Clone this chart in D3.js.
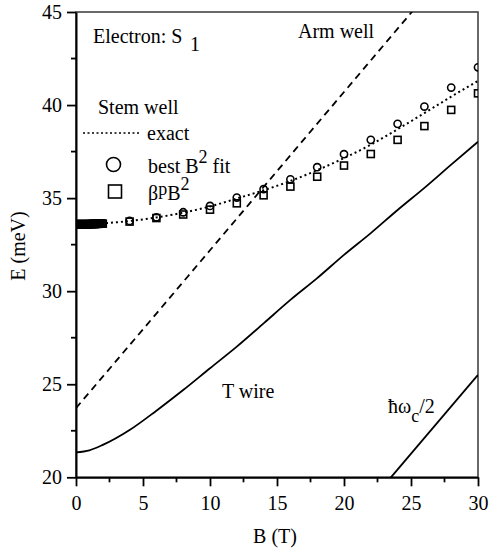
<!DOCTYPE html>
<html><head><meta charset="utf-8">
<script src="https://cdn.jsdelivr.net/npm/d3@7"></script>
<style>
body{margin:0;background:#fff}
text{font-family:"Liberation Serif","Times New Roman",serif;fill:#000}
</style></head>
<body><svg id="c" width="489" height="553"></svg>
<script>
// ---- data ----
const xTicks = [0,5,10,15,20,25,30];
const yTicks = [20,25,30,35,40,45];
const xMinor = [2.5,7.5,12.5,17.5,22.5,27.5];
const yMinor = [22.5,27.5,32.5,37.5,42.5];

const exactB = [0,2,4,6,8,10,12,14,16,18,20,22,24,26,28,30];
const exactE = [33.6,33.65,33.77,33.96,34.22,34.55,34.98,35.42,35.92,36.5,37.15,37.87,38.7,39.57,40.45,41.3];

const lowB = [0,0.1,0.2,0.3,0.4,0.5,0.6,0.7,0.8,0.9,1.0,1.1,1.2,1.3,1.4,1.5,1.6,1.7,1.8,1.9,2.0];
const lowE = [33.6,33.6,33.6,33.6,33.6,33.6,33.6,33.6,33.6,33.6,33.6,33.61,33.61,33.61,33.61,33.62,33.62,33.62,33.63,33.63,33.63];

const fitB = [4,6,8,10,12,14,16,18,20,22,24,26,28,30];
const circleE = [33.77,33.97,34.24,34.58,35.03,35.48,36.01,36.66,37.36,38.13,38.99,39.92,40.94,42.03];
const squareE = [33.74,33.93,34.12,34.38,34.72,35.15,35.62,36.15,36.75,37.37,38.13,38.87,39.74,40.63];

const armB = [0,5,10,15,20,25,26];
const armE = [23.72,27.95,32.2,36.45,40.7,44.95,45.8];

const tB = [0,1,2,4,6,8,10,12,14,16,18,20,22,24,26,28,30];
const tE = [21.34,21.45,21.74,22.54,23.58,24.69,25.86,27.02,28.27,29.53,30.7,31.95,33.12,34.36,35.55,36.8,38.03];

const cycB = [23.5,30];
const cycE = [20,25.5];

// ---- layout ----
const svg = d3.select("#c");
const L=76, R=478, T=12, Bt=477.3;
const x = d3.scaleLinear().domain([0,30]).range([L,R]);
const y = d3.scaleLinear().domain([20,45]).range([Bt,T]);

svg.append("clipPath").attr("id","clip").append("rect")
  .attr("x",L).attr("y",T).attr("width",R-L).attr("height",Bt-T);

// frame
svg.append("rect").attr("x",L).attr("y",T).attr("width",R-L).attr("height",Bt-T)
  .attr("fill","none").attr("stroke","#444").attr("stroke-width",1.6);

// axes
const xa = svg.append("g").attr("transform",`translate(0,${Bt})`)
  .call(d3.axisBottom(x).tickValues(xTicks).tickSize(9).tickSizeOuter(0).tickPadding(10));
const ya = svg.append("g").attr("transform",`translate(${L},0)`)
  .call(d3.axisLeft(y).tickValues(yTicks).tickSize(9).tickSizeOuter(0).tickPadding(5));
[xa,ya].forEach(g=>{
  g.select(".domain").attr("stroke","#000").attr("stroke-width",2);
  g.selectAll(".tick line").attr("stroke","#000").attr("stroke-width",1.8);
  g.selectAll(".tick text").attr("font-family","Liberation Serif").attr("font-size",20).attr("fill","#000");
});
svg.append("g").selectAll("line").data(xMinor).join("line")
  .attr("x1",d=>x(d)).attr("x2",d=>x(d)).attr("y1",Bt).attr("y2",Bt+5)
  .attr("stroke","#000").attr("stroke-width",1.8);
svg.append("g").selectAll("line").data(yMinor).join("line")
  .attr("y1",d=>y(d)).attr("y2",d=>y(d)).attr("x1",L).attr("x2",L-5)
  .attr("stroke","#000").attr("stroke-width",1.8);

// axis titles
svg.append("text").attr("x",275).attr("y",543).attr("text-anchor","middle")
  .attr("font-size",20).text("B (T)");
svg.append("text").attr("transform","translate(25,246) rotate(-90)").attr("text-anchor","middle")
  .attr("font-size",20).text("E (meV)");

const plot = svg.append("g").attr("clip-path","url(#clip)");
const line = d3.line().x(d=>x(d[0])).y(d=>y(d[1]));
const zip = (a,b)=>a.map((v,i)=>[v,b[i]]);

// T wire
plot.append("path").attr("d",line.curve(d3.curveMonotoneX)(zip(tB,tE)))
  .attr("fill","none").attr("stroke","#000").attr("stroke-width",1.8);
// Arm well dashed
plot.append("path").attr("d",d3.line().x(d=>x(d[0])).y(d=>y(d[1])).curve(d3.curveMonotoneX)(zip(armB,armE)))
  .attr("fill","none").attr("stroke","#000").attr("stroke-width",1.8).attr("stroke-dasharray","7,5");
// hbar omega_c/2
plot.append("path").attr("d",d3.line().x(d=>x(d[0])).y(d=>y(d[1]))(zip(cycB,cycE)))
  .attr("fill","none").attr("stroke","#000").attr("stroke-width",1.8);
// exact dotted
plot.append("path").attr("d",d3.line().x(d=>x(d[0])).y(d=>y(d[1])).curve(d3.curveMonotoneX)(zip(exactB,exactE)))
  .attr("fill","none").attr("stroke","#000").attr("stroke-width",2).attr("stroke-dasharray","2,3");

// markers
const allCB = lowB.concat(fitB), allCE = lowE.concat(circleE);
const allSB = lowB.concat(fitB), allSE = lowE.concat(squareE);
plot.append("g").selectAll("rect").data(zip(allSB,allSE)).join("rect")
  .attr("x",d=>x(d[0])-3.5).attr("y",d=>y(d[1])-3.5).attr("width",7).attr("height",7)
  .attr("fill","none").attr("stroke","#000").attr("stroke-width",1.6);
plot.append("g").selectAll("circle").data(zip(allCB,allCE)).join("circle")
  .attr("cx",d=>x(d[0])).attr("cy",d=>y(d[1])).attr("r",3.6)
  .attr("fill","none").attr("stroke","#000").attr("stroke-width",1.6);

// legend & labels
const t1 = svg.append("text").attr("x",93).attr("y",43).attr("font-size",20);
t1.append("tspan").text("Electron: S");
t1.append("tspan").attr("x",190).attr("y",51).text("1");

svg.append("text").attr("x",98).attr("y",114).attr("font-size",20).text("Stem well");
svg.append("line").attr("x1",83).attr("x2",140).attr("y1",133).attr("y2",133)
  .attr("stroke","#000").attr("stroke-width",1.6).attr("stroke-dasharray","2,2.5");
svg.append("text").attr("x",147).attr("y",140).attr("font-size",20).text("exact");
svg.append("circle").attr("cx",113.5).attr("cy",164.5).attr("r",7)
  .attr("fill","none").attr("stroke","#000").attr("stroke-width",1.6);
const t2 = svg.append("text").attr("x",148).attr("y",173).attr("font-size",20);
t2.append("tspan").text("best B");
t2.append("tspan").attr("dy",-10).attr("font-size",18).text("2");
t2.append("tspan").attr("dy",10).text(" fit");
svg.append("rect").attr("x",108.5).attr("y",185).attr("width",13).attr("height",13)
  .attr("fill","none").attr("stroke","#000").attr("stroke-width",1.6);
const t3 = svg.append("text").attr("x",148).attr("y",200).attr("font-size",20);
t3.append("tspan").text("β");
t3.append("tspan").attr("dy",-5).attr("font-size",18).text("p");
t3.append("tspan").attr("dy",5).text("B");
t3.append("tspan").attr("dy",-10).attr("font-size",18).text("2");

svg.append("text").attr("x",298).attr("y",38).attr("font-size",20).text("Arm well");
svg.append("text").attr("x",222).attr("y",398).attr("font-size",20).text("T wire");
const t4 = svg.append("text").attr("x",388).attr("y",413).attr("font-size",20);
t4.append("tspan").text("ħω");
t4.append("tspan").attr("dy",9).attr("font-size",18).text("c");
t4.append("tspan").attr("dy",-9).text("/2");
</script></body></html>
